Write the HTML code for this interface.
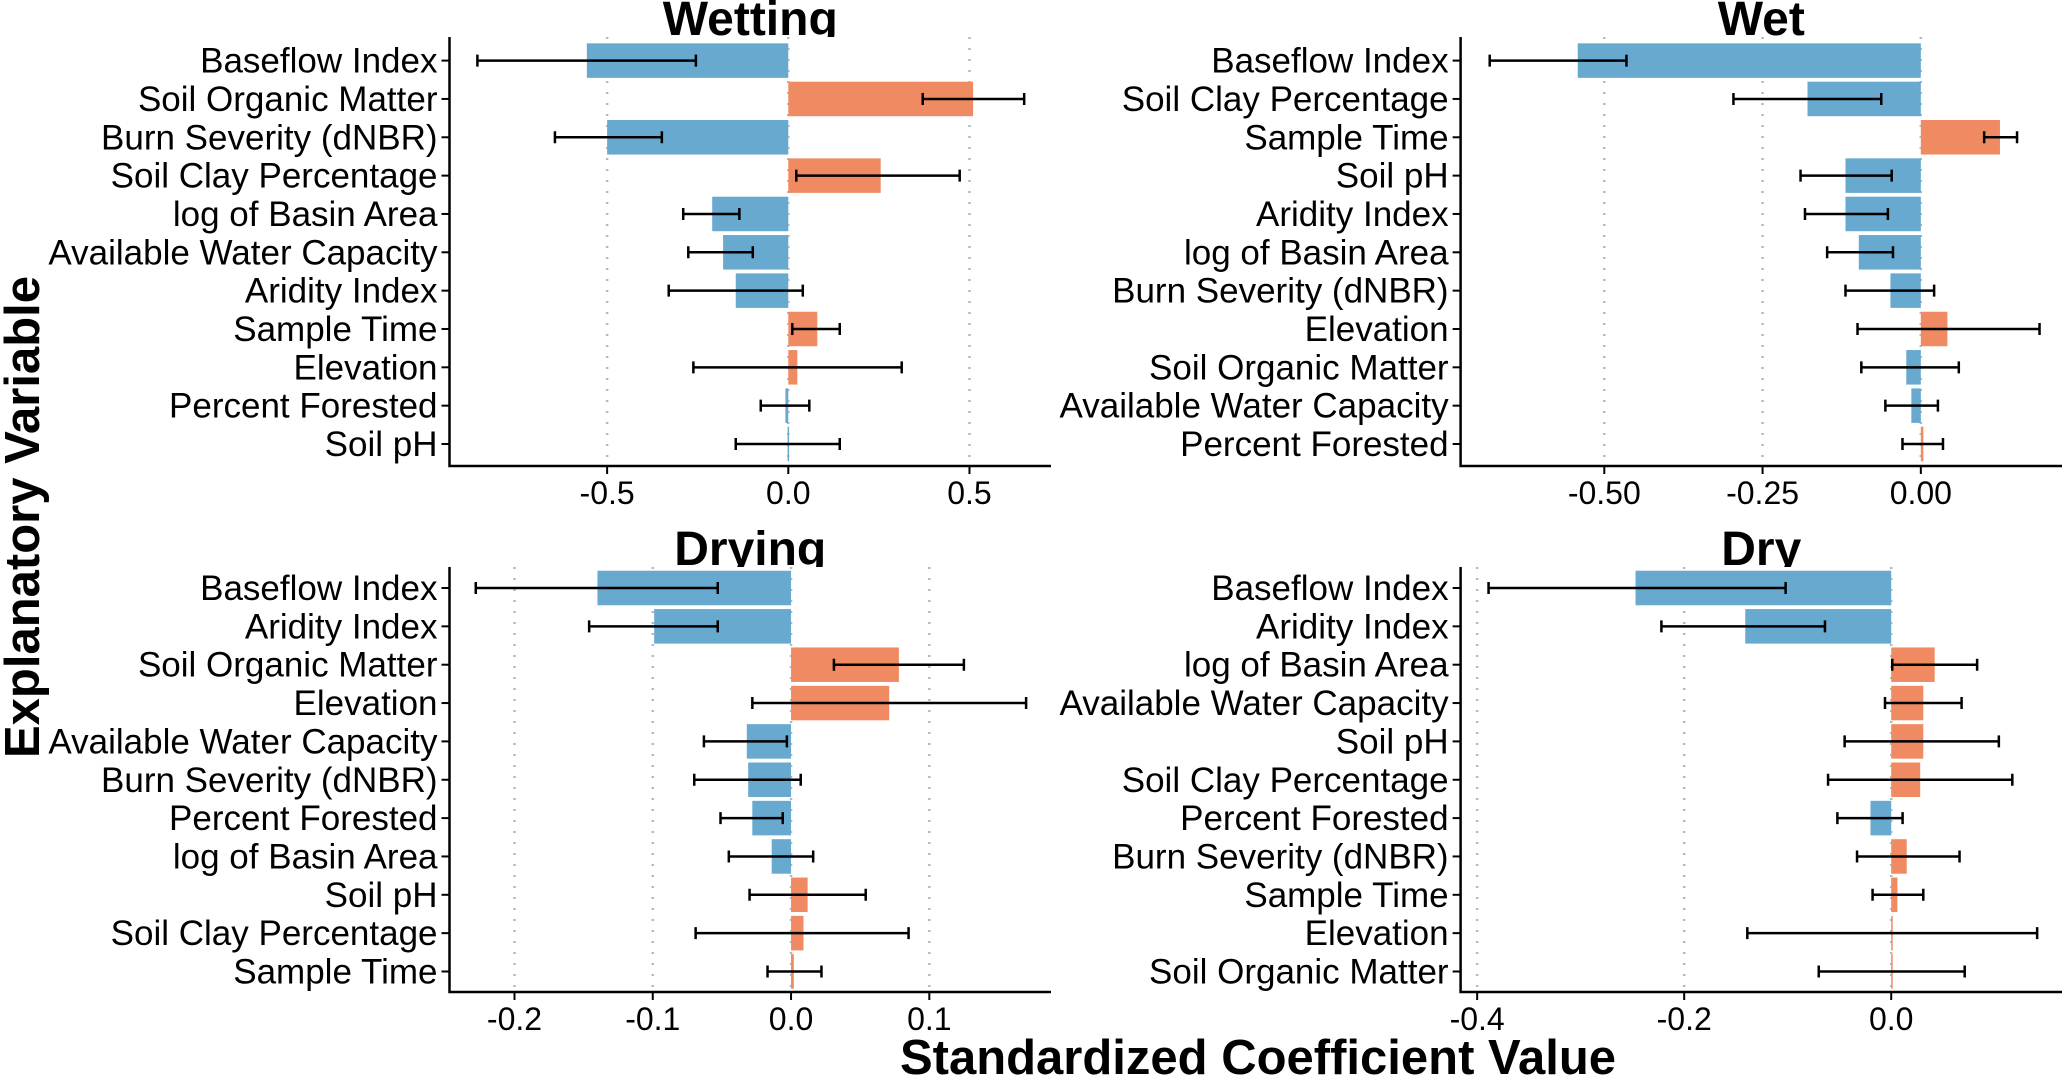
<!DOCTYPE html>
<html><head><meta charset="utf-8">
<style>
html,body{margin:0;padding:0;background:#fff;}
svg{display:block;font-family:"Liberation Sans",Arial,sans-serif;}
</style></head>
<body>
<svg id="chart" width="2067" height="1080" viewBox="0 0 2067 1080" xmlns="http://www.w3.org/2000/svg">
<rect width="2067" height="1080" fill="#fff"/>
<text transform="translate(39,517) rotate(-90)" text-anchor="middle" font-size="49" font-weight="bold">Explanatory Variable</text>
<text x="1258" y="1074" text-anchor="middle" font-size="49" font-weight="bold">Standardized Coefficient Value</text>
</svg>
<script>
// Wetting
const wettingCats = ["Baseflow Index","Soil Organic Matter","Burn Severity (dNBR)","Soil Clay Percentage","log of Basin Area","Available Water Capacity","Aridity Index","Sample Time","Elevation","Percent Forested","Soil pH"];
const wettingVals = [-0.556,0.51,-0.50,0.255,-0.21,-0.18,-0.145,0.08,0.025,-0.008,-0.002];
const wettingLo = [-0.858,0.371,-0.644,0.022,-0.29,-0.276,-0.33,0.011,-0.262,-0.076,-0.145];
const wettingHi = [-0.255,0.651,-0.349,0.473,-0.135,-0.098,0.04,0.142,0.313,0.058,0.142];
const wettingTicks = [-0.5,0,0.5];
const wettingTickLabels = ["-0.5","0.0","0.5"];
// Wet
const wetCats = ["Baseflow Index","Soil Clay Percentage","Sample Time","Soil pH","Aridity Index","log of Basin Area","Burn Severity (dNBR)","Elevation","Soil Organic Matter","Available Water Capacity","Percent Forested"];
const wetVals = [-0.542,-0.179,0.125,-0.119,-0.119,-0.098,-0.048,0.042,-0.023,-0.015,0.004];
const wetLo = [-0.681,-0.296,0.10,-0.19,-0.183,-0.148,-0.119,-0.10,-0.094,-0.056,-0.029];
const wetHi = [-0.465,-0.0625,0.152,-0.046,-0.052,-0.044,0.021,0.1875,0.06,0.027,0.035];
const wetTicks = [-0.5,-0.25,0];
const wetTickLabels = ["-0.50","-0.25","0.00"];
// Drying
const dryingCats = ["Baseflow Index","Aridity Index","Soil Organic Matter","Elevation","Available Water Capacity","Burn Severity (dNBR)","Percent Forested","log of Basin Area","Soil pH","Soil Clay Percentage","Sample Time"];
const dryingVals = [-0.14,-0.099,0.078,0.071,-0.032,-0.031,-0.028,-0.014,0.012,0.009,0.002];
const dryingLo = [-0.228,-0.146,0.031,-0.028,-0.063,-0.07,-0.051,-0.045,-0.03,-0.069,-0.017];
const dryingHi = [-0.053,-0.053,0.125,0.17,-0.003,0.007,-0.006,0.016,0.054,0.085,0.022];
const dryingTicks = [-0.2,-0.1,0,0.1];
const dryingTickLabels = ["-0.2","-0.1","0.0","0.1"];
// Dry
const dryCats = ["Baseflow Index","Aridity Index","log of Basin Area","Available Water Capacity","Soil pH","Soil Clay Percentage","Percent Forested","Burn Severity (dNBR)","Sample Time","Elevation","Soil Organic Matter"];
const dryVals = [-0.247,-0.141,0.042,0.031,0.031,0.028,-0.02,0.015,0.006,0.001,0.001];
const dryLo = [-0.389,-0.222,0.001,-0.006,-0.045,-0.061,-0.052,-0.033,-0.018,-0.139,-0.07];
const dryHi = [-0.102,-0.064,0.083,0.068,0.104,0.117,0.011,0.066,0.031,0.141,0.071];
const dryTicks = [-0.4,-0.2,0];
const dryTickLabels = ["-0.4","-0.2","0.0"];

const NS="http://www.w3.org/2000/svg";
const svg=document.getElementById('chart');
function mk(tag,attrs,parent){const e=document.createElementNS(NS,tag);for(const k in attrs)e.setAttribute(k,attrs[k]);(parent||svg).appendChild(e);return e;}

function panel(key,title,cats,vals,lo,hi,ticks,tickLabels,box){
  const g=mk('g',{});
  
  
  const x=v=>box.left+(v-box.xmin)/(box.xmax-box.xmin)*(box.right-box.left);
  const step=(box.bottomRow-box.topRow)/(cats.length-1);
  const y=i=>box.topRow+i*step;
  const t=mk('text',{x:(box.left+box.right)/2,y:box.top-2,'text-anchor':'middle','font-size':48,'font-weight':'bold'},g);
  t.textContent=title;
  
  
  mk('rect',{x:box.left,y:box.top,width:box.right-box.left,height:box.axisY-box.top,fill:'#fff'},g);
  ticks.forEach((tv,i)=>{
    const gl=mk('line',{x1:x(tv),x2:x(tv),y1:box.top,y2:box.axisY,stroke:'#b8b8b8','stroke-width':2.5,'stroke-dasharray':'2 9'},g);
    
    
    mk('line',{x1:x(tv),x2:x(tv),y1:box.axisY,y2:box.axisY+8,stroke:'#000','stroke-width':2},g);
    const tl=mk('text',{x:x(tv),y:box.axisY+38,'text-anchor':'middle','font-size':32},g);
    tl.textContent=tickLabels[i];
    
    
  });
  const bh=step*0.9;
  cats.forEach((c,i)=>{
    const v=vals[i];
    const b=mk('rect',{x:Math.min(x(0),x(v)),y:y(i)-bh/2,width:Math.max(Math.abs(x(v)-x(0)),1.5),height:bh,fill:v<0?'#67a9cf':'#ef8a62'},g);
    
    
    const e=mk('path',{d:`M${x(lo[i])},${y(i)}H${x(hi[i])}M${x(lo[i])},${y(i)-6}V${y(i)+6}M${x(hi[i])},${y(i)-6}V${y(i)+6}`,stroke:'#000','stroke-width':2.5,fill:'none'},g);
    
    
    mk('line',{x1:box.left-8,x2:box.left,y1:y(i),y2:y(i),stroke:'#000','stroke-width':2},g);
    const l=mk('text',{x:box.left-12,y:y(i)+12,'text-anchor':'end','font-size':35},g);
    l.textContent=c;
    
    
  });
  mk('path',{d:`M${box.left},${box.top}V${box.axisY}H${box.right}`,stroke:'#000','stroke-width':2.5,fill:'none'},g);
}
panel('wetting','Wetting',wettingCats,wettingVals,wettingLo,wettingHi,wettingTicks,wettingTickLabels,
  {left:449.5,right:1051,xmin:-0.935,xmax:0.725,top:37,axisY:466,topRow:60.6,bottomRow:444});
panel('wet','Wet',wetCats,wetVals,wetLo,wetHi,wetTicks,wetTickLabels,
  {left:1460.6,right:2062,xmin:-0.727,xmax:0.223,top:37,axisY:466,topRow:60.6,bottomRow:444});
panel('drying','Drying',dryingCats,dryingVals,dryingLo,dryingHi,dryingTicks,dryingTickLabels,
  {left:449.5,right:1051,xmin:-0.247,xmax:0.188,top:567,axisY:992,topRow:588,bottomRow:971.5});
panel('dry','Dry',dryCats,dryVals,dryLo,dryHi,dryTicks,dryTickLabels,
  {left:1460.6,right:2062,xmin:-0.416,xmax:0.165,top:567,axisY:992,topRow:588,bottomRow:971.5});
</script>
</body></html>
